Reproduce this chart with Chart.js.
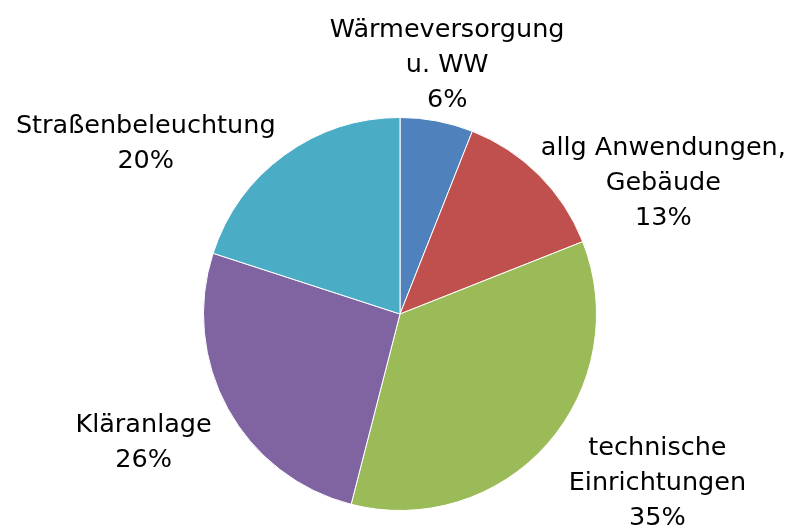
<!DOCTYPE html>
<html>
<head>
<meta charset="utf-8">
<script src="https://cdn.jsdelivr.net/npm/chart.js@4/dist/chart.umd.min.js"></script>
<style>
  html, body { margin: 0; padding: 0; background: #fff; }
  #wrap { width: 791px; height: 528px; }
</style>
</head>
<body>
<div id="wrap"><canvas id="pieChart" width="791" height="528"></canvas></div>
<script>
// chart data
const categories = [
    ["Wärmeversorgung", "u. WW"],
    ["allg Anwendungen,", "Gebäude"],
    ["technische", "Einrichtungen"],
    ["Kläranlage"],
    ["Straßenbeleuchtung"]
];
const shares = [6, 13, 35, 26, 20];
const percentLabels = ["6%", "13%", "35%", "26%", "20%"];

const sliceColors = ["#4F81BD", "#C0504D", "#9BBB59", "#8064A2", "#4BACC6"];
// label anchor (centre x, first baseline) in units of the pie radius
const labelOffsets = [[0.24, -1.41], [1.34, -0.807], [1.31, 0.716], [-1.305, 0.599], [-1.294, -0.919]];

const outsideLabels = {
    id: "outsideLabels",
    afterDatasetsDraw(chart) {
        const ctx = chart.ctx;
        const arcs = chart.getDatasetMeta(0).data;
        ctx.save();
        ctx.font = "25.5px 'DejaVu Sans'";
        ctx.fillStyle = "#000";
        ctx.textAlign = "center";
        ctx.textBaseline = "alphabetic";
        arcs.forEach((arc, i) => {
            const r = arc.outerRadius;
            const x = arc.x + labelOffsets[i][0] * r;
            let y = arc.y + labelOffsets[i][1] * r;
            const lines = categories[i].concat([percentLabels[i]]);
            lines.forEach((line) => {
                ctx.fillText(line, x, y);
                y += 35;
            });
        });
        ctx.restore();
    }
};

new Chart(document.getElementById("pieChart").getContext("2d"), {
    type: "pie",
    data: {
        labels: categories.map((c) => c.join(" ")),
        datasets: [
            {
                data: shares,
                backgroundColor: sliceColors,
                borderColor: "#ffffff",
                borderWidth: 1
            }
        ]
    },
    options: {
        responsive: false,
        animation: false,
        layout: { padding: { top: 117, bottom: 17, left: 203, right: 194 } },
        plugins: {
            legend: { display: false },
            tooltip: { enabled: false }
        }
    },
    plugins: [outsideLabels]
});
</script>
</body>
</html>
